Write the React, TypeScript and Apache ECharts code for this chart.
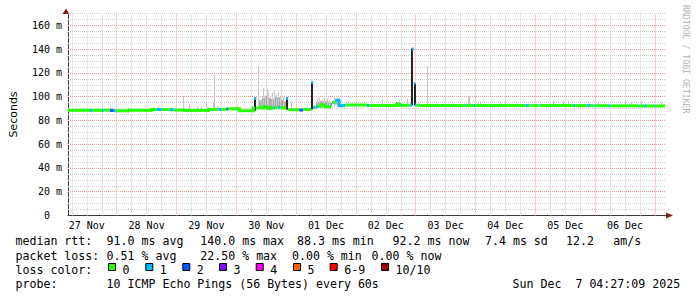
import React, { useEffect, useRef } from 'react';
import * as echarts from 'echarts';

const HOUR = 3600000;
const DAY = 24 * HOUR;
const START = Date.UTC(2025, 10, 27, 4, 27, 9);
const END = Date.UTC(2025, 11, 7, 4, 27, 9);
const FIRST_MIDNIGHT = Date.UTC(2025, 10, 27, 0, 0, 0);

const dayLabels = ['27 Nov', '28 Nov', '29 Nov', '30 Nov', '01 Dec', '02 Dec', '03 Dec', '04 Dec', '05 Dec', '06 Dec'];

const lossColors = ['#26ff00', '#00b8ff', '#0059ff', '#7e00ff', '#ff00ea', '#ff5e00', '#ff0000', '#a10000'];
const lossLabels = ['0', '1', '2', '3', '4', '5', '6-9', '10/10'];

// median rtt steps: start hour (since graph start), median ms, lost pings
const medianHours = [0, 8.8, 9.6, 13.6, 14.4, 16.8, 18.4, 19.2, 24.4, 33.6, 35.6, 37.6, 40.8, 42.4, 46.8, 56.4, 60.4, 61.6, 63.6, 64.4, 68.8, 74.4, 74.8, 75.6, 78.4, 80, 81.6, 82.4, 83.2, 84.4, 85.2, 87.6, 88.4, 92.8, 94.4, 97.6, 98.4, 99.2, 99.6, 100.4, 101.6, 103.2, 105.6, 106, 107.2, 108.8, 111.2, 120, 120.8, 132, 133.2, 133.6, 134, 137.2, 138, 138.8, 139.2, 139.6, 140.8, 141.2, 159.2, 159.8, 162.8, 163.4, 183.6, 184.6, 185.6, 186, 188.8, 189.2, 202.8, 203.6, 208.4, 209.6, 210.4, 210.8, 212.4, 212.8, 216.8, 217.6, 228.8, 229.2, 231.2, 232, 235.2, 235.6];
const medianMs = [88.5, 88.5, 88.5, 88.5, 88.6, 88.4, 88.2, 88.1, 88.5, 89.2, 89.2, 89.2, 89.0, 88.7, 88.4, 89.3, 89.3, 89.4, 89.6, 89.8, 88.2, 90.5, 98.5, 90.5, 91.5, 90.2, 90.5, 90.5, 91, 91, 90.5, 98.5, 89, 88.8, 89.2, 112, 91, 91, 91.5, 92, 93, 91.5, 93.5, 95, 97, 92.5, 93, 92.6, 92.6, 93.5, 92.7, 92.7, 92.7, 93, 140, 111, 93, 92.8, 92.8, 92.6, 92.6, 92.6, 92.6, 92.6, 92.5, 92.5, 92.5, 92.5, 92.5, 92.5, 92.5, 92.5, 92.5, 92.5, 92.4, 92.4, 92.4, 92.4, 92.3, 92.3, 92.2, 92.2, 92.2, 92.2, 92.2, 92.2];
const medianLoss = [0, 1, 0, 1, 0, 2, 1, 0, 0, 0, 1, 0, 1, 0, 0, 0, 1, 0, 2, 0, 0, 0, 1, 0, 0, 0, 0, 1, 0, 1, 0, 1, 0, 2, 0, 1, 1, 0, 1, 0, 0, 0, 1, 0, 1, 1, 0, 1, 0, 0, 0, 1, 0, 1, 1, 1, 1, 0, 1, 0, 1, 0, 1, 0, 1, 0, 1, 0, 1, 0, 1, 0, 1, 0, 1, 0, 1, 0, 1, 0, 1, 0, 1, 0, 1, 0];
const MEDIAN_END_HOUR = 239.6;

// smoke: single pings above the median
const lightSmokeHours = [34.3, 36.0, 46.3, 48.7, 52.0, 53.6, 55.6, 58.3, 58.9, 60.0, 65.6, 68.0, 74.0, 76.5, 77.6, 78.5, 79.2, 79.9, 80.6, 81.9, 82.9, 83.6, 84.3, 85.2, 86.5, 89.6, 100.0, 101.0, 102.0, 103.0, 104.0, 104.8, 106.8, 108.0, 126.3, 132.9, 136.3, 144.2, 160.9, 161.3, 164.8, 165.6, 173.6, 175.6, 194.8, 198.8, 200.8, 212.8, 223.6, 226.0, 230.3, 238.3];
const lightSmokeTop = [91.5, 91, 100.5, 94, 91.5, 92, 95, 95.5, 118, 92, 91.5, 92.5, 92, 126.5, 97, 107, 101, 106.5, 104, 103.5, 105.5, 102, 104, 101, 100, 96, 98.5, 99.5, 98, 99, 98.5, 97, 99, 99.5, 98, 97.5, 98, 125.5, 100.5, 100.7, 96, 96, 95.5, 96, 96.5, 96, 96.5, 96, 96.5, 96, 95.5, 95.5];
const midSmokeHours = [77.2, 78.4, 79.6, 80.8, 82.0, 83.2, 84.4, 85.6, 86.8, 100.0, 101.2, 102.4, 103.6, 104.8, 107.2, 108.4];
const midSmokeTop = [97, 99, 100, 99, 98, 100, 99.5, 97, 96, 95.5, 96.5, 96, 96, 95, 97, 96.5];
const darkSmokeHours = [75.0, 87.8, 98.0, 132.2, 138.2, 139.2];
const darkSmokeTop = [98.5, 98.5, 112, 95, 140.5, 111];

const statsLine1 = ['median rtt:', '91.0 ms avg', '140.0 ms max', '88.3 ms min', '92.2 ms now', '7.4 ms sd', '12.2', 'am/s'];
const statsLine2 = ['packet loss:', '0.51 % avg', '22.50 % max', '0.00 % min', '0.00 % now'];
const probeLine = ['probe:', '10 ICMP Echo Pings (56 Bytes) every 60s'];
const lossTitle = 'loss color:';
const timestampText = 'Sun Dec\u00a0\u00a07 04:27:09 2025';
const watermark = 'RRDTOOL / TOBI OETIKER';

const smokeColors = ['#c6c6c6', '#acacac', '#222222'];
const MONO = 'DejaVu Sans Mono';

function ts(h: number) {
  return START + h * HOUR;
}

function medianAt(h: number) {
  let v = medianMs[0];
  for (let i = 0; i < medianHours.length; i++) {
    if (medianHours[i] <= h) v = medianMs[i];
  }
  return v;
}
function baseAt(h: number) {
  let m = Infinity;
  for (let i = 0; i < medianHours.length; i++) {
    const s = medianHours[i];
    const e = i + 1 < medianHours.length ? medianHours[i + 1] : MEDIAN_END_HOUR;
    if (e >= h - 1.2 && s <= h + 1.2) m = Math.min(m, medianMs[i]);
  }
  return isFinite(m) ? m : medianAt(h);
}

export default function App() {
  const ref = useRef<HTMLDivElement>(null);
  useEffect(() => {
    if (!ref.current) return;
    const chart = echarts.init(ref.current, undefined, { renderer: 'svg' });

    const medianData = medianHours.map((h, i) => [
      ts(h),
      ts(i + 1 < medianHours.length ? medianHours[i + 1] : MEDIAN_END_HOUR),
      medianMs[i],
      medianLoss[i],
      i > 0 ? medianMs[i - 1] : null,
      i > 0 ? medianLoss[i - 1] : null,
    ]);

    const smokeData: any[] = [];
    midSmokeHours.forEach((h, i) => smokeData.push([ts(h), midSmokeTop[i], baseAt(h), 1]));
    lightSmokeHours.forEach((h, i) => smokeData.push([ts(h), lightSmokeTop[i], baseAt(h), 0]));
    darkSmokeHours.forEach((h, i) => smokeData.push([ts(h), darkSmokeTop[i], baseAt(h), 2]));

    const majorStyle = { color: '#eea0a0', width: 1, type: [1, 1] };
    const minorStyle = { color: '#cfcfcf', width: 1, type: [1, 1] };
    const gridLines: any[] = [];
    for (let t = Date.UTC(2025, 10, 27, 6); t < END; t += 6 * HOUR) {
      const isMidnight = (t - FIRST_MIDNIGHT) % DAY === 0;
      gridLines.push({ xAxis: t, lineStyle: isMidnight ? majorStyle : minorStyle });
    }
    for (let v = 5; v <= 170; v += 5) {
      gridLines.push({ yAxis: v, lineStyle: v % 20 === 0 ? majorStyle : minorStyle });
    }

    const graphic: any[] = [];
    const textEl = (x: number, y: number, text: string) => ({
      type: 'text',
      x,
      y,
      silent: true,
      style: { text, fill: '#000', fontFamily: MONO, fontSize: 11.6, verticalAlign: 'middle', align: 'left' },
    });
    const l1x = [15.5, 106.6, 200.3, 297, 392.6, 485, 566, 613.3];
    statsLine1.forEach((t, i) => graphic.push(textEl(l1x[i], 241, t)));
    const l2x = [15.5, 106.6, 200.3, 292, 371.6];
    statsLine2.forEach((t, i) => graphic.push(textEl(l2x[i], 255.5, t)));
    graphic.push(textEl(15.5, 269.5, lossTitle));
    const boxX = [108, 145.3, 182.3, 219, 255.7, 293, 329.7, 381];
    lossLabels.forEach((lab, i) => {
      graphic.push({
        type: 'rect',
        silent: true,
        shape: { x: boxX[i] + 0.5, y: 263.5, width: 7, height: 7 },
        style: { fill: lossColors[i], stroke: '#000', lineWidth: 1 },
      });
      graphic.push(textEl(boxX[i] + 14.5, 269.5, lab));
    });
    graphic.push(textEl(15.5, 284, probeLine[0]));
    graphic.push(textEl(106.6, 284, probeLine[1]));
    graphic.push(textEl(512.6, 284, timestampText));
    graphic.push({
      type: 'text',
      x: 686,
      y: 5,
      rotation: -Math.PI / 2,
      silent: true,
      style: { text: watermark, fill: '#b4b4b4', fontFamily: MONO, fontSize: 8.2, verticalAlign: 'middle', align: 'left' },
    });
    graphic.push({
      type: 'polygon',
      silent: true,
      shape: { points: [[62.5, 14], [66, 8.5], [69.5, 14]] },
      style: { fill: '#8e1a1a' },
    });
    graphic.push({
      type: 'polygon',
      silent: true,
      shape: { points: [[666, 212.5], [673, 215.5], [666, 218.5]] },
      style: { fill: '#8e1a1a' },
    });

    const option: any = {
      animation: false,
      useUTC: true,
      backgroundColor: '#ffffff',
      grid: { left: 66, right: 31, top: 13.5, bottom: 81.5, containLabel: false },
      xAxis: [
        {
          type: 'time',
          position: 'bottom',
          min: START,
          max: END,
          axisLine: { show: true, lineStyle: { color: '#3a3a3a', width: 1 } },
          axisTick: { show: false },
          axisLabel: { show: false },
          splitLine: { show: false },
        },
        {
          type: 'time',
          position: 'bottom',
          min: START - 12 * HOUR,
          max: END - 12 * HOUR,
          minInterval: DAY,
          maxInterval: DAY,
          axisLine: { show: false },
          axisTick: { show: false },
          splitLine: { show: false },
          axisLabel: {
            show: true,
            interval: 0,
            hideOverlap: false,
            margin: 5,
            fontSize: 10,
            color: '#000',
            fontFamily: MONO,
            formatter: (v: number) => {
              const d = (v - FIRST_MIDNIGHT) / DAY;
              const i = Math.round(d);
              if (Math.abs(d - i) > 1e-6) return '';
              return dayLabels[i] ?? '';
            },
          },
        },
      ],
      yAxis: {
        type: 'value',
        min: 0,
        max: 170,
        interval: 20,
        name: 'Seconds',
        nameLocation: 'middle',
        nameGap: 49,
        nameRotate: 90,
        nameTextStyle: { fontFamily: 'DejaVu Sans', fontSize: 11, color: '#000' },
        axisLine: { show: true, lineStyle: { color: '#3a3a3a', width: 1 } },
        axisTick: { show: false },
        splitLine: { show: false },
        axisLabel: {
          margin: 6,
          fontSize: 10,
          color: '#000',
          fontFamily: MONO,
          formatter: (v: number) => (v % 20 === 0 ? (v === 0 ? '0\u00a0\u00a0' : `${v} m`) : ''),
        },
      },
      series: [
        {
          type: 'line',
          xAxisIndex: 0,
          yAxisIndex: 0,
          data: [],
          z: 1,
          silent: true,
          markLine: {
            z: 1,
            zlevel: 0,
            silent: true,
            symbol: 'none',
            label: { show: false },
            emphasis: { disabled: true },
            animation: false,
            data: gridLines,
          },
        },
        {
          type: 'custom',
          name: 'smoke',
          xAxisIndex: 0,
          yAxisIndex: 0,
          z: 6,
          silent: true,
          encode: { x: 0, y: 1 },
          data: smokeData,
          renderItem: (params: any, api: any) => {
            const top = api.coord([api.value(0), api.value(1)]);
            const base = api.coord([api.value(0), api.value(2)]);
            const shade = api.value(3);
            const w = shade === 1 ? 3 : shade === 2 ? 2 : 1;
            const x = Math.round(top[0] - w / 2);
            return {
              type: 'rect',
              shape: { x, y: top[1], width: w, height: Math.max(0, base[1] - top[1]) },
              style: { fill: smokeColors[shade] },
            };
          },
        },
        {
          type: 'custom',
          name: 'median rtt',
          xAxisIndex: 0,
          yAxisIndex: 0,
          z: 7,
          silent: true,
          encode: { x: [0, 1], y: 2 },
          data: medianData,
          renderItem: (params: any, api: any) => {
            const p0 = api.coord([api.value(0), api.value(2)]);
            const p1 = api.coord([api.value(1), api.value(2)]);
            const loss = api.value(3);
            const color = lossColors[loss];
            const children: any[] = [
              {
                type: 'rect',
                shape: { x: p0[0], y: p0[1] - 1.5, width: Math.max(1, p1[0] - p0[0]), height: 3 },
                style: { fill: color },
              },
            ];
            const prev = api.value(4);
            const prevLoss = api.value(5);
            if (!isNaN(prev) && prevLoss === loss && Math.abs(prev - api.value(2)) < 6) {
              const py = api.coord([api.value(0), prev])[1];
              children.push({
                type: 'rect',
                shape: { x: p0[0] - 1.5, y: Math.min(py, p0[1]) - 1.5, width: 3, height: Math.abs(py - p0[1]) + 3 },
                style: { fill: color },
              });
            }
            return { type: 'group', children };
          },
        },
      ],
      graphic,
    };
    chart.setOption(option);
    return () => chart.dispose();
  }, []);
  return <div ref={ref} style={{ position: 'fixed', left: 0, top: 0, width: 697, height: 297, background: '#fff' }} />;
}
